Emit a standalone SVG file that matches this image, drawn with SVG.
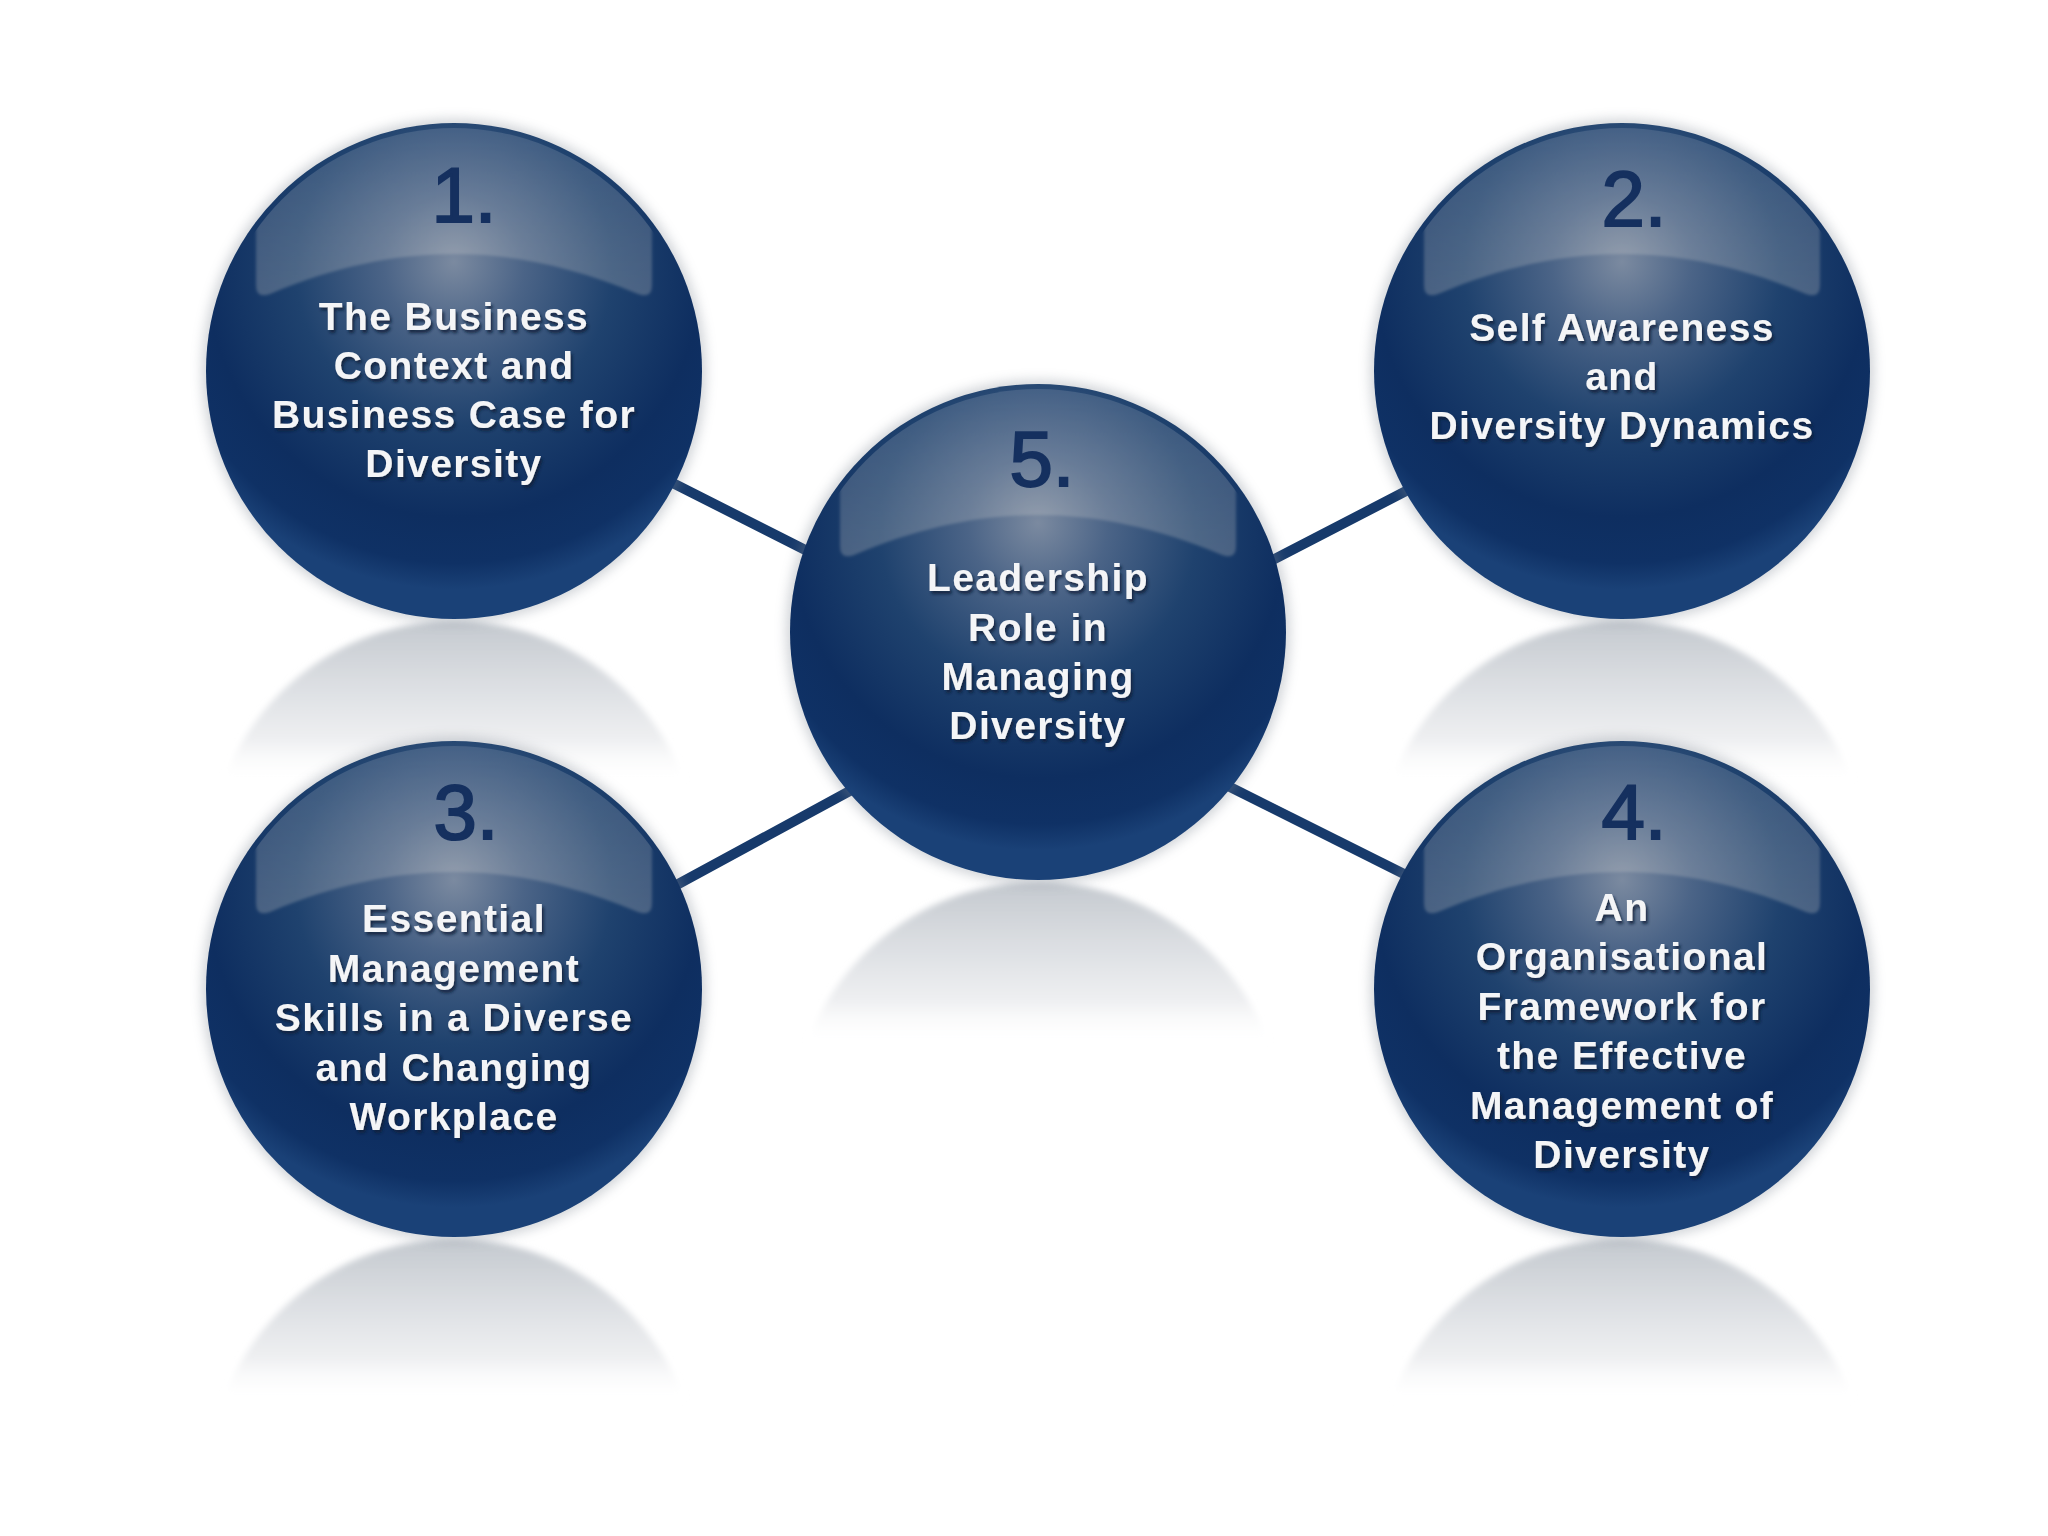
<svg xmlns="http://www.w3.org/2000/svg" width="2048" height="1536" viewBox="0 0 2048 1536">
<defs>
<radialGradient id="sphere" cx="0.5" cy="0.3" r="0.64" fx="0.5" fy="0.28">
<stop offset="0" stop-color="#7b8aa0"/>
<stop offset="0.22" stop-color="#4b6487"/>
<stop offset="0.5" stop-color="#1f426e"/>
<stop offset="0.78" stop-color="#0e2e60"/>
<stop offset="0.92" stop-color="#0f3165"/>
<stop offset="1" stop-color="#1a4177"/>
</radialGradient>
<linearGradient id="gloss" x1="0" y1="0" x2="0" y2="1">
<stop offset="0" stop-color="#e6e8ee" stop-opacity="0.14"/>
<stop offset="0.6" stop-color="#e4e2dc" stop-opacity="0.2"/>
<stop offset="1" stop-color="#e8e2d6" stop-opacity="0.24"/>
</linearGradient>
<linearGradient id="refl" x1="0" y1="0" x2="0" y2="1">
<stop offset="0" stop-color="#c4c9cf"/>
<stop offset="0.12" stop-color="#dadde1"/>
<stop offset="0.24" stop-color="#eeeff1"/>
<stop offset="0.33" stop-color="#ffffff" stop-opacity="0"/>
</linearGradient>
<clipPath id="inner" clipPathUnits="userSpaceOnUse"><circle cx="0" cy="0" r="243"/></clipPath>
<filter id="blur" x="-20%" y="-20%" width="140%" height="140%"><feGaussianBlur stdDeviation="6"/></filter>
<filter id="soft" x="-20%" y="-20%" width="140%" height="140%"><feGaussianBlur stdDeviation="3"/></filter>
<filter id="gsoft" x="-10%" y="-10%" width="120%" height="120%"><feGaussianBlur stdDeviation="1.5"/></filter>
<filter id="tshadow" x="-10%" y="-30%" width="120%" height="160%"><feDropShadow dx="2" dy="3" stdDeviation="1.5" flood-color="#081a38" flood-opacity="0.85"/></filter>
</defs>
<style>
.halo{fill:#7d8591;opacity:0.35}
.ball{fill:url(#sphere)}
.gl{fill:url(#gloss);filter:url(#gsoft)}
.refl{fill:url(#refl)}
.num{font-family:"Liberation Sans","DejaVu Sans",sans-serif;font-size:78px;fill:#15305f;stroke:#15305f;stroke-width:2;text-anchor:middle}
.lbl{font-family:"Liberation Sans","DejaVu Sans",sans-serif;font-weight:bold;font-size:39px;letter-spacing:1.4px;fill:#f4f5f7;text-anchor:middle;filter:url(#tshadow)}
.conn{stroke:#173a6b;stroke-width:10;stroke-linecap:round;fill:none}
</style>
<rect width="2048" height="1536" fill="#ffffff"/>

<g id="reflections" filter="url(#soft)">
<circle class="refl" cx="454" cy="867" r="246"/>
<circle class="refl" cx="1622" cy="867" r="246"/>
<circle class="refl" cx="1038" cy="1128" r="246"/>
<circle class="refl" cx="454" cy="1485" r="246"/>
<circle class="refl" cx="1622" cy="1485" r="246"/>
</g>

<g id="connectors">
<line class="conn" x1="643" y1="468" x2="839" y2="567"/>
<line class="conn" x1="1240" y1="577" x2="1435" y2="476"/>
<line class="conn" x1="647" y1="901" x2="881" y2="774"/>
<line class="conn" x1="1198" y1="771" x2="1436" y2="890"/>
</g>

<g id="node-1" transform="translate(454,371)">
<circle class="halo" r="252" filter="url(#blur)"/>
<circle class="ball" r="248"/>
<path class="gl" clip-path="url(#inner)" d="M-198,-86 L-198,-150 C-198,-215 -110,-250 0,-250 C110,-250 198,-215 198,-150 L198,-86 Q198,-72 184,-77 C120,-104 60,-117 0,-117 C-60,-117 -120,-104 -184,-77 Q-198,-72 -198,-86 Z"/>
<text class="num" x="10" y="-149">1.</text>
<text class="lbl" y="-41">The Business</text>
<text class="lbl" y="8">Context and</text>
<text class="lbl" y="57">Business Case for</text>
<text class="lbl" y="106">Diversity</text>
</g>

<g id="node-2" transform="translate(1622,371)">
<circle class="halo" r="252" filter="url(#blur)"/>
<circle class="ball" r="248"/>
<path class="gl" clip-path="url(#inner)" d="M-198,-86 L-198,-150 C-198,-215 -110,-250 0,-250 C110,-250 198,-215 198,-150 L198,-86 Q198,-72 184,-77 C120,-104 60,-117 0,-117 C-60,-117 -120,-104 -184,-77 Q-198,-72 -198,-86 Z"/>
<text class="num" x="12" y="-145">2.</text>
<text class="lbl" y="-30">Self Awareness</text>
<text class="lbl" y="19">and</text>
<text class="lbl" y="68">Diversity Dynamics</text>
</g>

<g id="node-3" transform="translate(454,989)">
<circle class="halo" r="252" filter="url(#blur)"/>
<circle class="ball" r="248"/>
<path class="gl" clip-path="url(#inner)" d="M-198,-86 L-198,-150 C-198,-215 -110,-250 0,-250 C110,-250 198,-215 198,-150 L198,-86 Q198,-72 184,-77 C120,-104 60,-117 0,-117 C-60,-117 -120,-104 -184,-77 Q-198,-72 -198,-86 Z"/>
<text class="num" x="12" y="-150">3.</text>
<text class="lbl" y="-57">Essential</text>
<text class="lbl" y="-7">Management</text>
<text class="lbl" y="42">Skills in a Diverse</text>
<text class="lbl" y="92">and Changing</text>
<text class="lbl" y="141">Workplace</text>
</g>

<g id="node-4" transform="translate(1622,989)">
<circle class="halo" r="252" filter="url(#blur)"/>
<circle class="ball" r="248"/>
<path class="gl" clip-path="url(#inner)" d="M-198,-86 L-198,-150 C-198,-215 -110,-250 0,-250 C110,-250 198,-215 198,-150 L198,-86 Q198,-72 184,-77 C120,-104 60,-117 0,-117 C-60,-117 -120,-104 -184,-77 Q-198,-72 -198,-86 Z"/>
<text class="num" x="12" y="-150">4.</text>
<text class="lbl" y="-68">An</text>
<text class="lbl" y="-19">Organisational</text>
<text class="lbl" y="31">Framework for</text>
<text class="lbl" y="80">the Effective</text>
<text class="lbl" y="130">Management of</text>
<text class="lbl" y="179">Diversity</text>
</g>

<g id="node-5" transform="translate(1038,632)">
<circle class="halo" r="252" filter="url(#blur)"/>
<circle class="ball" r="248"/>
<path class="gl" clip-path="url(#inner)" d="M-198,-86 L-198,-150 C-198,-215 -110,-250 0,-250 C110,-250 198,-215 198,-150 L198,-86 Q198,-72 184,-77 C120,-104 60,-117 0,-117 C-60,-117 -120,-104 -184,-77 Q-198,-72 -198,-86 Z"/>
<text class="num" x="4" y="-146">5.</text>
<text class="lbl" y="-41">Leadership</text>
<text class="lbl" y="9">Role in</text>
<text class="lbl" y="58">Managing</text>
<text class="lbl" y="107">Diversity</text>
</g>
</svg>
